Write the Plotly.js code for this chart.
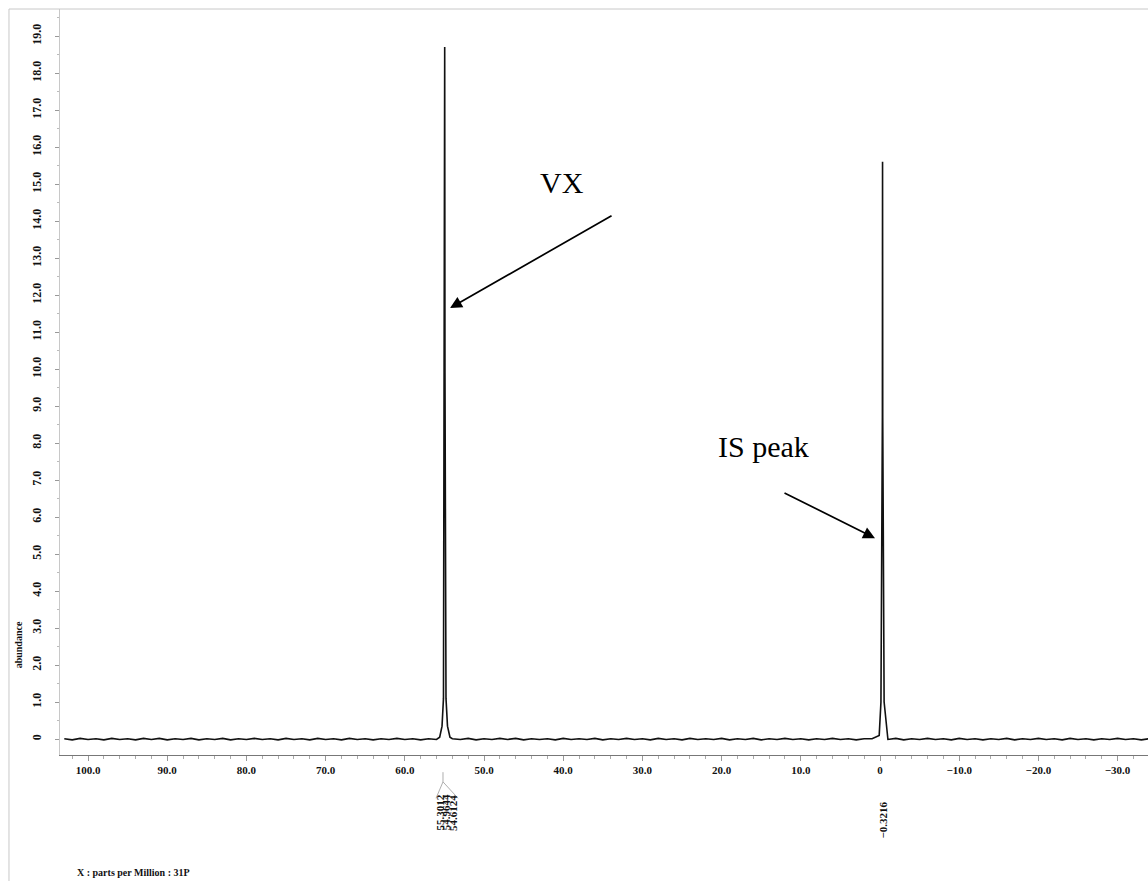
<!DOCTYPE html>
<html>
<head>
<meta charset="utf-8">
<script src="https://cdn.plot.ly/plotly-3.0.1.min.js"></script>
<style>html,body{margin:0;padding:0;background:#fff;}#chart{width:1148px;height:881px;}</style>
</head>
<body>
<div id="chart"></div>
<script>
// ---- data (31P NMR spectrum) ----
const ppmBaseA = [103,102,101,100,99,98,97,96,95,94,
  93,92,91,90,89,88,87,86,85,84,
  83,82,81,80,79,78,77,76,75,74,
  73,72,71,70,69,68,67,66,65,64,
  63,62,61,60,59,58,57,56];
const absBaseA = [0.01,-0.02,0.02,-0.01,0.01,-0.02,0.02,-0.01,0.01,-0.02,
  0.02,-0.01,0.02,-0.02,0.01,-0.01,0.02,-0.02,0.01,-0.01,
  0.02,-0.02,0.01,-0.01,0.02,-0.01,0.01,-0.02,0.02,-0.01,
  0.01,-0.02,0.02,-0.01,0.01,-0.02,0.02,-0.01,0.01,-0.02,
  0.01,-0.01,0.02,-0.01,0.01,-0.02,0.01,-0.01];
const ppmVX = [55.6,55.3012,55.12,55.0,54.9644,54.93,54.8,54.6124,54.3];
const absVX = [0.05,0.35,1.1,9.9,18.7,9.9,1.1,0.35,0.05];
const ppmBaseB = [54,53,52,51,50,49,48,47,46,45,44,
  43,42,41,40,39,38,37,36,35,34,
  33,32,31,30,29,28,27,26,25,24,
  23,22,21,20,19,18,17,16,15,14,
  13,12,11,10,9,8,7,6,5,4,
  3,2,1];
const absBaseB = [0.01,-0.01,0.02,-0.02,0.01,-0.01,0.02,-0.01,0.02,-0.02,0.01,
  -0.01,0.01,-0.02,0.02,-0.01,0.01,-0.01,0.02,-0.02,0.01,
  -0.01,0.02,-0.01,0.01,-0.02,0.02,-0.01,0.01,-0.02,0.02,
  -0.01,0.01,-0.01,0.02,-0.02,0.01,-0.01,0.02,-0.02,0.01,
  -0.01,0.02,-0.01,0.01,-0.02,0.01,-0.01,0.02,-0.01,0.01,
  -0.02,0.01,0.01];
const ppmIS = [0.1,-0.12,-0.3,-0.3216,-0.345,-0.52];
const absIS = [0.1,1.0,8.7,15.6,8.7,1.0];
const ppmBaseC = [-1,-2,-3,-4,-5,-6,-7,-8,-9,-10,
  -11,-12,-13,-14,-15,-16,-17,-18,-19,-20,
  -21,-22,-23,-24,-25,-26,-27,-28,-29,-30,
  -31,-32,-33,-34];
const absBaseC = [-0.01,0.02,-0.02,0.01,-0.01,0.02,-0.01,0.01,-0.02,0.02,
  -0.01,0.01,-0.02,0.01,-0.01,0.02,-0.02,0.01,-0.01,0.02,
  -0.01,0.01,-0.02,0.02,-0.01,0.01,-0.02,0.01,-0.01,0.02,
  -0.01,0.01,-0.02,0.01];

const xTickVals = [100,90,80,70,60,50,40,30,20,10,0,-10,-20,-30];
const xTickText = ['100.0','90.0','80.0','70.0','60.0','50.0','40.0','30.0','20.0','10.0','0','\u221210.0','\u221220.0','\u221230.0'];
const yTickVals = [0,1,2,3,4,5,6,7,8,9,10,11,12,13,14,15,16,17,18,19];
const yTickText = ['0','1.0','2.0','3.0','4.0','5.0','6.0','7.0','8.0','9.0','10.0','11.0','12.0','13.0','14.0','15.0','16.0','17.0','18.0','19.0'];
const vxPeakLabels = ['55.3012','54.9644','54.6124'];
const vxPeakPpm = [55.3012,54.9644,54.6124];
const isPeakLabels = ['\u22120.3216'];
const isPeakPpm = [-0.3216];

const ppm = [].concat(ppmBaseA, ppmVX, ppmBaseB, ppmIS, ppmBaseC);
const abundance = [].concat(absBaseA, absVX, absBaseB, absIS, absBaseC);

// ---- layout helpers ----
const serif = 'Liberation Serif, Times New Roman, serif';
const tickFont = {family: serif, size: 11, color: '#111', weight: 'bold'};

const trace = {
  x: ppm, y: abundance, type: 'scatter', mode: 'lines',
  line: {color: '#111', width: 1.6}, hoverinfo: 'skip'
};

const annotations = [];
const vxShift = [-2, 2, 6];
vxPeakLabels.forEach((t, i) => annotations.push({
  text: t, x: vxPeakPpm[i], xref: 'x', y: -0.077, yref: 'paper',
  textangle: -90, showarrow: false, xshift: vxShift[i],
  xanchor: 'center', yanchor: 'middle', font: tickFont
}));
isPeakLabels.forEach((t, i) => annotations.push({
  text: t, x: isPeakPpm[i], xref: 'x', y: -0.087, yref: 'paper',
  textangle: -90, showarrow: false, xanchor: 'center', yanchor: 'middle', font: tickFont
}));
annotations.push({text: 'VX', x: 40.15, y: 15.03, xref: 'x', yref: 'y', showarrow: false,
  font: {family: serif, size: 30, color: '#000'}});
annotations.push({text: '', x: 54.29, y: 11.65, xref: 'x', yref: 'y', showarrow: true,
  ax: 163, ay: -93, arrowhead: 2, arrowsize: 1.4, arrowwidth: 1.7, arrowcolor: '#000'});
annotations.push({text: 'IS peak', x: 14.77, y: 7.92, xref: 'x', yref: 'y', showarrow: false,
  font: {family: serif, size: 30, color: '#000'}});
annotations.push({text: '', x: 0.63, y: 5.43, xref: 'x', yref: 'y', showarrow: true,
  ax: -92, ay: -46, arrowhead: 2, arrowsize: 1.4, arrowwidth: 1.7, arrowcolor: '#000'});
annotations.push({text: 'abundance', xref: 'paper', yref: 'paper', x: -0.0386, y: 0.147,
  textangle: -90, showarrow: false, xanchor: 'center', yanchor: 'middle',
  font: {family: serif, size: 10, color: '#111', weight: 'bold'}});
annotations.push({text: 'X : parts per Million : 31P', xref: 'paper', yref: 'paper', x: 0.0138, y: -0.158,
  showarrow: false, xanchor: 'left', yanchor: 'middle',
  font: {family: serif, size: 10, color: '#111', weight: 'bold'}});

const shapes = [
  {type: 'line', xref: 'paper', yref: 'paper', x0: -0.0469, x1: 1, y0: 1, y1: 1, line: {color: '#c8c8c8', width: 1}},
  {type: 'line', xref: 'paper', yref: 'paper', x0: -0.0469, x1: -0.0469, y0: 1, y1: -0.2, line: {color: '#c8c8c8', width: 1}},
  {type: 'line', xref: 'x', yref: 'paper', x0: 55.18, x1: 55.18, y0: -0.023, y1: -0.036, line: {color: '#999', width: 0.8}},
  {type: 'line', xref: 'x', yref: 'paper', x0: 55.18, x1: 56.06, y0: -0.036, y1: -0.058, line: {color: '#999', width: 0.8}},
  {type: 'line', xref: 'x', yref: 'paper', x0: 55.18, x1: 53.28, y0: -0.036, y1: -0.058, line: {color: '#999', width: 0.8}}
];

const layout = {
  width: 1148, height: 881,
  margin: {l: 60, r: 0, t: 9, b: 126},
  paper_bgcolor: '#fff', plot_bgcolor: '#fff',
  showlegend: false,
  xaxis: {
    range: [103.54, -33.84], showgrid: false, zeroline: false,
    showline: true, linecolor: '#777', linewidth: 1,
    ticks: 'outside', ticklen: 5, tickcolor: '#999', tickwidth: 1,
    tickvals: xTickVals, ticktext: xTickText, tickfont: tickFont,
    minor: {dtick: 2, ticks: 'outside', ticklen: 3, tickcolor: '#aaa', showgrid: false}
  },
  yaxis: {
    range: [-0.43, 19.73], showgrid: false, zeroline: false,
    showline: true, linecolor: '#c8c8c8', linewidth: 1,
    ticks: 'outside', ticklen: 4, tickcolor: '#999', tickwidth: 1,
    tickvals: yTickVals, ticktext: yTickText, tickangle: -90,
    tickfont: {family: serif, size: 12, color: '#111', weight: 'bold'},
    ticklabelstandoff: 9,
    minor: {dtick: 0.5, ticks: 'outside', ticklen: 2, tickcolor: '#bbb', showgrid: false}
  },
  annotations: annotations,
  shapes: shapes
};

Plotly.newPlot('chart', [trace], layout, {displayModeBar: false, staticPlot: true});
</script>
</body>
</html>
